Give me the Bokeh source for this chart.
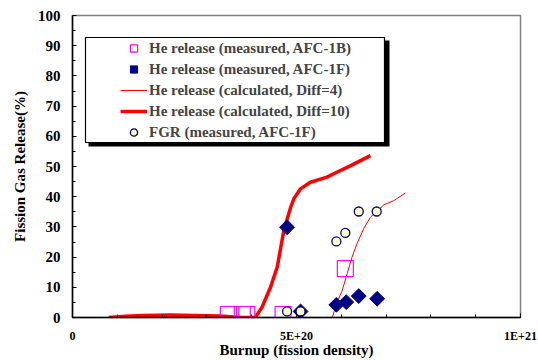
import math
from bokeh.plotting import figure
from bokeh.models import Legend, LegendItem, FixedTicker, BoxAnnotation, Range1d
from bokeh.embed import file_html
from bokeh.resources import INLINE

# Burnup in units of 1E+20 fissions/cm3, release in %
afc1b_x = [3.48, 3.79, 3.89, 4.70, 6.09]
afc1b_y = [1.0, 1.0, 1.0, 1.0, 16.2]

afc1f_x = [4.79, 5.09, 5.89, 6.11, 6.39, 6.80]
afc1f_y = [29.9, 2.0, 4.2, 5.1, 7.1, 6.2]

fgr_x = [4.79, 5.09, 5.89, 6.09, 6.39, 6.79]
fgr_y = [2.0, 2.0, 25.2, 28.0, 35.1, 35.1]

calc4_x = [5.80, 5.89, 6.02, 6.13, 6.24, 6.35, 6.50, 6.65, 6.79, 6.95, 7.17, 7.43]
calc4_y = [0.0, 4.5, 8.9, 14.5, 20.0, 24.4, 29.4, 33.2, 35.1, 37.3, 38.7, 41.2]

calc10_x = [0.81, 1.18, 1.58, 2.19, 2.70, 3.30, 3.59, 3.75, 4.08, 4.23, 4.42, 4.57,
            4.72, 4.87, 4.94, 5.09, 5.31, 5.68, 5.83, 6.21, 6.65]
calc10_y = [0.0, 0.4, 0.66, 0.8, 0.7, 0.5, 0.2, 0.05, 0.0, 3.4, 10.0, 16.7,
            29.0, 36.5, 39.3, 42.6, 44.8, 46.5, 47.6, 50.3, 53.6]

x_ticks = [0, 5, 10]
x_tick_labels = ["0", "5E+20", "1E+21"]
x_minor = [1, 2, 3, 4, 6, 7, 8, 9]
y_ticks = [0, 10, 20, 30, 40, 50, 60, 70, 80, 90, 100]
y_minor = [5, 15, 25, 35, 45, 55, 65, 75, 85, 95]

x_title = "Burnup (fission density)"
y_title = "Fission Gas Release(%)"
labels = ["He release (measured, AFC-1B)",
          "He release (measured, AFC-1F)",
          "He release (calculated, Diff=4)",
          "He release (calculated, Diff=10)",
          "FGR (measured, AFC-1F)"]

FONT = "Liberation Serif"
NAVY = "#000080"

p = figure(width=538, height=360, output_backend="svg", toolbar_location=None,
           x_range=Range1d(0, 10), y_range=Range1d(0, 100),
           min_border_left=72, min_border_right=18, min_border_top=15,
           min_border_bottom=43)

p.xgrid.visible = False
p.ygrid.visible = False
p.outline_line_color = "#808080"
p.outline_line_width = 1.5
p.background_fill_color = "white"

# boxes for legend (shadow + frame)
shadow = BoxAnnotation(left=88, right=389, top=40, bottom=146,
                       left_units="canvas", right_units="canvas",
                       top_units="canvas", bottom_units="canvas",
                       fill_color="black", fill_alpha=1.0, line_alpha=0)
frame = BoxAnnotation(left=85, right=384, top=37, bottom=142,
                      left_units="canvas", right_units="canvas",
                      top_units="canvas", bottom_units="canvas",
                      fill_color="white", fill_alpha=1.0,
                      line_color="black", line_width=1.2, line_alpha=1.0)
p.add_layout(shadow)
p.add_layout(frame)

r4 = p.line(calc4_x, calc4_y, line_color="red", line_width=1)
r10 = p.line(calc10_x, calc10_y, line_color="red", line_width=3.5)
rsq = p.scatter(afc1b_x, afc1b_y, marker="square", size=16, fill_color=None,
                line_color="#FF00FF", line_width=1.2)
rdi = p.scatter(afc1f_x, afc1f_y, marker="square", angle=math.pi / 4, size=10.5,
                fill_color=NAVY, line_color=NAVY)
rci = p.scatter(fgr_x, fgr_y, marker="circle", size=9, fill_color="#FFFFCC",
                line_color=NAVY, line_width=1.3)

legend = Legend(items=[LegendItem(label=labels[0], renderers=[rsq]),
                       LegendItem(label=labels[1], renderers=[rdi]),
                       LegendItem(label=labels[2], renderers=[r4]),
                       LegendItem(label=labels[3], renderers=[r10]),
                       LegendItem(label=labels[4], renderers=[rci])],
                location=(44, 172), padding=4, spacing=3, margin=0,
                glyph_width=27, glyph_height=18, label_height=18,
                label_standoff=2, border_line_alpha=0, background_fill_alpha=0,
                label_text_font=FONT, label_text_font_style="bold",
                label_text_font_size="15px")
p.add_layout(legend)

for ax in (p.xaxis[0], p.yaxis[0]):
    ax.axis_line_color = "black"
    ax.axis_line_width = 1.5
    ax.major_tick_out = 0
    ax.major_tick_in = 4
    ax.minor_tick_out = 0
    ax.minor_tick_in = 3
    ax.major_tick_line_color = "black"
    ax.minor_tick_line_color = "black"
    ax.major_label_text_font = FONT
    ax.major_label_text_font_style = "bold"
    ax.major_label_text_color = "black"
    ax.axis_label_text_font = FONT
    ax.axis_label_text_font_style = "bold"
    ax.axis_label_text_font_size = "15px"
    ax.axis_label_text_color = "black"

p.xaxis.ticker = FixedTicker(ticks=x_ticks, minor_ticks=x_minor)
p.xaxis.major_label_overrides = dict(zip(x_ticks, x_tick_labels))
p.xaxis.major_label_text_font_size = "12px"
p.xaxis.major_label_standoff = 11
p.xaxis.axis_label = x_title
p.xaxis.axis_label_standoff = -4

p.yaxis.ticker = FixedTicker(ticks=y_ticks, minor_ticks=y_minor)
p.yaxis.major_label_text_font_size = "15px"
p.yaxis.major_label_standoff = 12
p.yaxis.axis_label = y_title
p.yaxis.axis_label_standoff = 7

open("out.html", "w").write(file_html(p, INLINE))
